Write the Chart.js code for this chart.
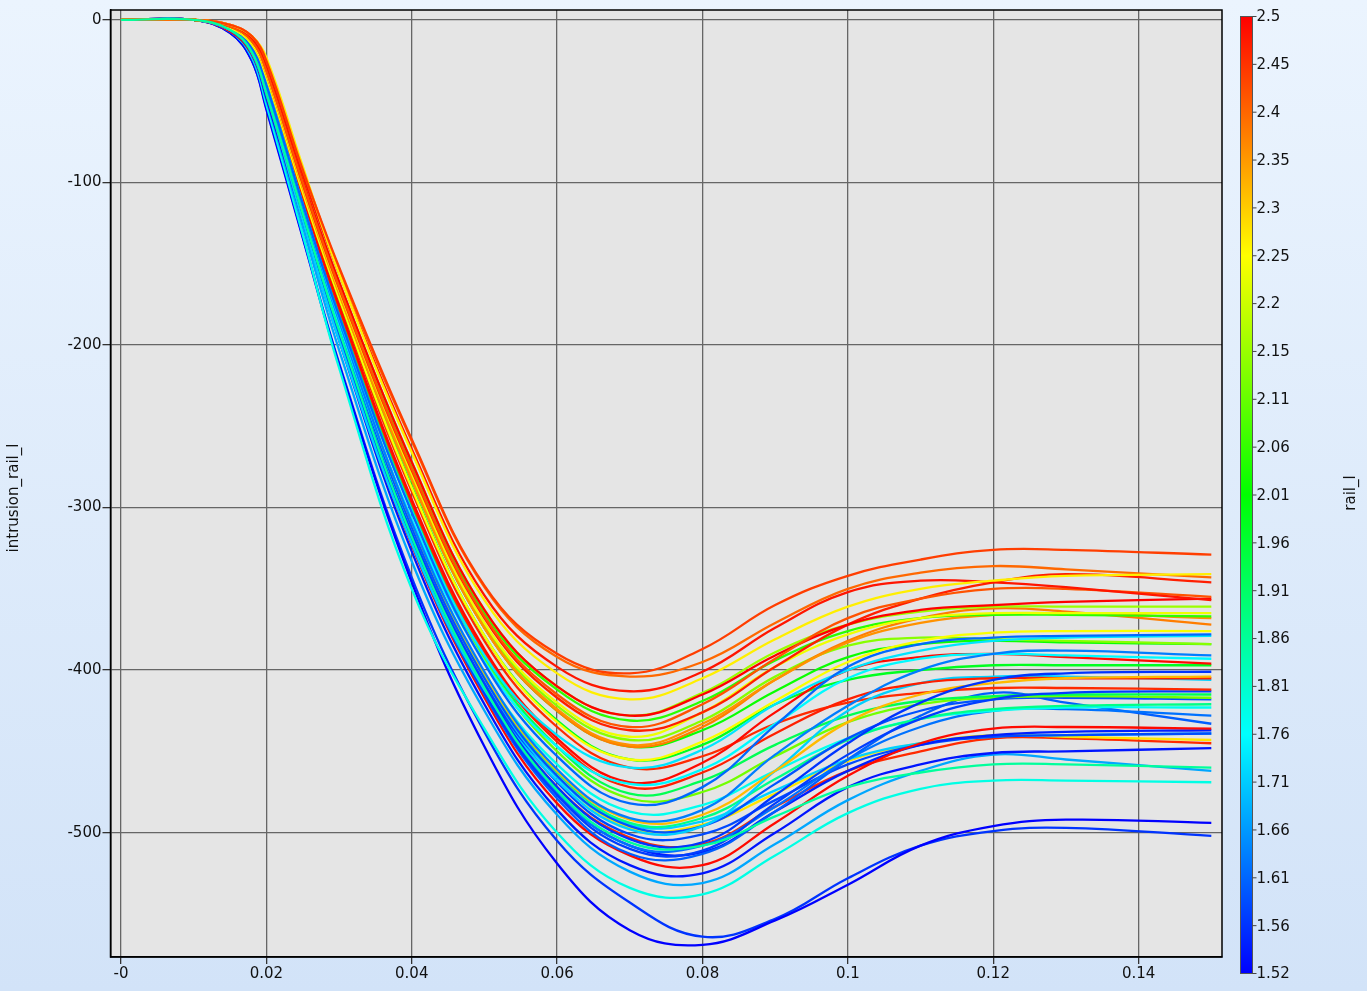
<!DOCTYPE html>
<html>
<head>
<meta charset="utf-8">
<script src="https://cdn.jsdelivr.net/npm/chart.js@4.4.0/dist/chart.umd.min.js"></script>
<style>
  html, body { margin: 0; padding: 0; }
  body {
    width: 1367px; height: 991px; overflow: hidden;
    background: linear-gradient(to bottom, #ebf4fe, #d2e3f8);
  }
  canvas { display: block; }
</style>
</head>
<body>
<canvas id="chart" width="1367" height="991"></canvas>
<script>
// --- Data
const xValues = [0, 0.01, 0.015, 0.018, 0.02, 0.025, 0.03, 0.04, 0.05, 0.06, 0.07, 0.08, 0.09, 0.1, 0.11, 0.12, 0.13, 0.15];

const railValues = [
  1.86, 2.44, 2.27, 2.40, 2.48, 2.42, 2.50, 2.47, 2.16, 2.24,
  2.05, 2.36, 2.38, 2.25, 1.62, 1.74, 2.14, 2.02, 1.64, 1.76,
  2.49, 1.98, 1.57, 2.32, 2.47, 1.72, 2.46, 1.58, 1.93, 2.12,
  1.60, 1.88, 1.78, 1.63, 1.61, 2.49, 1.55, 1.59, 1.72, 2.28,
  2.46, 1.54, 1.68, 1.79, 1.52, 1.57
];

const intrusionSeries = [
  [0,0,-6,-20,-45,-119,-191,-318,-411,-474,-506,-508,-490,-472,-463,-458,-458,-460],
  [0,0,-3,-10,-25,-92,-152,-258,-348,-390,-402,-387,-360,-342,-332,-326,-326,-329],
  [0,0,-3,-10,-23,-90,-156,-266,-357,-402,-418,-405,-381,-361,-350,-345,-342,-341],
  [0,0,-3,-10,-25,-92,-153,-259,-349,-392,-404,-395,-371,-350,-340,-336,-338,-343],
  [0,0,-3,-11,-27,-95,-156,-264,-354,-398,-413,-401,-374,-352,-345,-346,-349,-357],
  [0,0,-4,-13,-31,-100,-164,-276,-367,-415,-435,-421,-393,-368,-356,-350,-350,-355],
  [0,0,-4,-12,-30,-99,-161,-272,-363,-410,-428,-415,-391,-372,-363,-360,-358,-356],
  [0,0,-4,-13,-31,-101,-165,-277,-368,-417,-437,-426,-398,-372,-356,-346,-341,-346],
  [0,0,-4,-12,-30,-99,-161,-272,-363,-410,-428,-414,-389,-372,-364,-361,-361,-361],
  [0,0,-4,-14,-32,-102,-166,-279,-371,-420,-441,-426,-398,-378,-368,-365,-365,-365],
  [0,0,-4,-13,-30,-99,-162,-274,-365,-412,-431,-419,-394,-376,-368,-366,-366,-367],
  [0,0,-4,-14,-33,-103,-168,-282,-374,-424,-446,-433,-406,-383,-371,-366,-365,-368],
  [0,0,-4,-14,-33,-103,-168,-283,-374,-425,-447,-435,-406,-382,-368,-362,-364,-372],
  [0,0,-5,-15,-35,-106,-171,-288,-379,-432,-455,-444,-419,-395,-382,-377,-376,-376],
  [0,0,-5,-17,-40,-113,-182,-303,-396,-453,-482,-472,-434,-398,-384,-380,-379,-378],
  [0,0,-5,-17,-39,-113,-183,-302,-391,-440,-460,-449,-421,-400,-388,-382,-380,-379],
  [0,0,-4,-14,-32,-102,-167,-281,-372,-422,-443,-431,-404,-385,-380,-381,-382,-384],
  [0,0,-4,-14,-33,-103,-168,-283,-374,-425,-447,-437,-413,-392,-384,-382,-383,-384],
  [0,0,-6,-18,-42,-115,-185,-309,-401,-461,-491,-486,-452,-422,-400,-390,-388,-391],
  [0,0,-6,-18,-41,-116,-187,-307,-395,-447,-470,-461,-433,-405,-393,-390,-391,-393],
  [0,0,-5,-16,-37,-109,-176,-295,-387,-442,-469,-457,-426,-400,-392,-390,-392,-396],
  [0,0,-5,-15,-35,-105,-171,-287,-379,-431,-455,-446,-421,-406,-400,-397,-397,-397],
  [0,0,-6,-20,-44,-119,-191,-317,-410,-472,-504,-506,-477,-445,-420,-406,-402,-401],
  [0,0,-6,-18,-42,-115,-185,-309,-402,-462,-492,-489,-462,-432,-415,-408,-405,-404],
  [0,0,-5,-16,-38,-110,-177,-297,-389,-444,-472,-463,-439,-418,-408,-405,-405,-405],
  [0,0,-6,-20,-45,-123,-197,-322,-412,-468,-498,-496,-462,-425,-408,-404,-404,-406],
  [0,0,-5,-15,-35,-107,-173,-290,-382,-435,-460,-453,-433,-420,-414,-411,-411,-412],
  [0,0,-6,-20,-45,-120,-193,-320,-414,-477,-510,-511,-482,-452,-430,-418,-414,-413],
  [0,0,-5,-17,-38,-111,-179,-299,-391,-447,-476,-468,-446,-428,-419,-416,-415,-415],
  [0,0,-5,-17,-39,-112,-180,-301,-393,-450,-479,-475,-453,-432,-421,-417,-416,-417],
  [0,0,-6,-19,-43,-117,-187,-312,-405,-465,-496,-496,-470,-442,-425,-418,-417,-418],
  [0,0,-6,-19,-42,-116,-186,-310,-403,-463,-494,-491,-467,-443,-430,-424,-422,-421],
  [0,0,-6,-19,-43,-120,-191,-312,-402,-458,-487,-483,-462,-442,-430,-425,-423,-423],
  [0,0,-6,-20,-45,-120,-192,-319,-412,-475,-508,-508,-484,-455,-435,-425,-424,-428],
  [0,0,-6,-20,-46,-121,-194,-322,-415,-479,-513,-513,-487,-455,-428,-414,-420,-433],
  [0,0,-7,-21,-46,-122,-195,-323,-417,-482,-514,-520,-494,-465,-445,-436,-435,-436],
  [0,0,-6,-20,-45,-120,-192,-320,-413,-476,-508,-512,-487,-462,-446,-440,-438,-437],
  [0,0,-6,-19,-44,-118,-189,-315,-408,-469,-501,-501,-480,-458,-446,-441,-440,-439],
  [0,0,-6,-20,-44,-122,-195,-318,-408,-466,-495,-493,-474,-455,-445,-441,-440,-439],
  [0,0,-6,-19,-43,-117,-187,-312,-405,-465,-497,-495,-476,-456,-445,-440,-441,-443],
  [0,0,-6,-20,-44,-119,-190,-316,-409,-472,-503,-507,-484,-462,-450,-442,-442,-445],
  [0,0,-7,-21,-48,-123,-197,-327,-421,-486,-520,-525,-500,-472,-458,-451,-450,-448],
  [0,0,-7,-22,-49,-127,-203,-333,-425,-489,-524,-531,-507,-480,-462,-452,-455,-462],
  [0,0,-7,-23,-52,-132,-214,-350,-436,-500,-534,-538,-514,-488,-473,-468,-468,-469],
  [0,0,-8,-25,-55,-134,-212,-346,-447,-519,-560,-569,-554,-532,-508,-496,-492,-494],
  [0,0,-8,-25,-54,-133,-211,-343,-438,-505,-543,-564,-553,-528,-508,-499,-497,-502]
];

const xTicks = [0, 0.02, 0.04, 0.06, 0.08, 0.1, 0.12, 0.14];
const xTickLabels = ['-0', '0.02', '0.04', '0.06', '0.08', '0.1', '0.12', '0.14'];
const yTicks = [0, -100, -200, -300, -400, -500];
const cbarLabels = ['2.5', '2.45', '2.4', '2.35', '2.3', '2.25', '2.2', '2.15', '2.11', '2.06', '2.01',
  '1.96', '1.91', '1.86', '1.81', '1.76', '1.71', '1.66', '1.61', '1.56', '1.52'];
const cbarMin = 1.52;
const cbarMax = 2.5;

const FONT = '"DejaVu Sans", sans-serif';

function railColor(v) {
  const t = (v - cbarMin) / (cbarMax - cbarMin);
  return `hsl(${(240 * (1 - t)).toFixed(1)}, 100%, 50%)`;
}

// ------------------------------------------
// PLOT BACKGROUND, FRAME, AXIS TITLE
// ------------------------------------------
const plotFrame = {
  id: 'plotFrame',
  beforeDraw(chart) {
    const { ctx, chartArea: a } = chart;
    ctx.save();
    ctx.fillStyle = '#e5e5e5';
    ctx.fillRect(a.left, a.top, a.width, a.height);
    ctx.restore();
  },
  afterDraw(chart) {
    const { ctx, chartArea: a } = chart;
    ctx.save();
    ctx.strokeStyle = '#000';
    ctx.lineWidth = 1.5;
    ctx.strokeRect(a.left, a.top, a.width, a.height);

    ctx.fillStyle = '#111';
    ctx.font = `15px ${FONT}`;
    ctx.textAlign = 'center';
    ctx.textBaseline = 'middle';
    ctx.translate(14, 498);
    ctx.rotate(-Math.PI / 2);
    ctx.fillText('intrusion_rail_l', 0, 0);
    ctx.restore();
  }
};

// ------------------------------------------
// COLOR BAR
// ------------------------------------------
const colorBar = {
  id: 'colorBar',
  afterDraw(chart) {
    const ctx = chart.ctx;
    const left = 1240.5, width = 12, top = 16.5, bottom = 973.5;
    const h = bottom - top;
    ctx.save();
    const grad = ctx.createLinearGradient(0, top, 0, bottom);
    [0, 0.25, 0.5, 0.75, 1].forEach(s => grad.addColorStop(s, `hsl(${240 * s}, 100%, 50%)`));
    ctx.fillStyle = grad;
    ctx.fillRect(left, top, width, h);
    ctx.strokeStyle = '#555';
    ctx.lineWidth = 1;
    ctx.strokeRect(left, top, width, h);

    ctx.fillStyle = '#111';
    ctx.font = `15px ${FONT}`;
    ctx.textAlign = 'left';
    ctx.textBaseline = 'middle';
    const n = cbarLabels.length - 1;
    cbarLabels.forEach((lab, i) => {
      const y = top + (h * i) / n;
      ctx.beginPath();
      ctx.moveTo(left + width, y);
      ctx.lineTo(left + width + 4, y);
      ctx.strokeStyle = '#444';
      ctx.stroke();
      ctx.fillText(lab, left + width + 4, y + 1);
    });

    ctx.translate(1351, 493);
    ctx.rotate(-Math.PI / 2);
    ctx.textAlign = 'center';
    ctx.fillText('rail_l', 0, 0);
    ctx.restore();
  }
};

// ------------------------------------------
// CHART
// ------------------------------------------
const datasets = intrusionSeries.map((ys, i) => ({
  data: ys.map((y, j) => ({ x: xValues[j], y })),
  borderColor: railColor(railValues[i]),
  borderWidth: 2.3,
  pointRadius: 0,
  fill: false,
  tension: 0.4
}));

new Chart(document.getElementById('chart'), {
  type: 'line',
  data: { datasets },
  options: {
    responsive: false,
    animation: false,
    events: [],
    layout: { padding: { top: 7, right: 145, left: 0, bottom: 0 } },
    plugins: { legend: { display: false }, tooltip: { enabled: false } },
    scales: {
      x: {
        type: 'linear',
        min: -0.00144,
        max: 0.15147,
        afterBuildTicks: s => { s.ticks = xTicks.map(v => ({ value: v })); },
        afterFit: s => { s.height = 34; },
        grid: { color: '#666', lineWidth: 1.3, tickLength: 7, tickColor: '#333' },
        border: { display: true, color: '#000', width: 1.5 },
        ticks: {
          color: '#111',
          font: { family: FONT, size: 15 },
          padding: 1,
          maxRotation: 0,
          callback: (v, i) => xTickLabels[i]
        }
      },
      y: {
        min: -576.5,
        max: 6.1,
        afterBuildTicks: s => { s.ticks = yTicks.map(v => ({ value: v })); },
        afterFit: s => { s.width = 110.5; },
        grid: { color: '#666', lineWidth: 1.3, tickLength: 8, tickColor: '#333' },
        border: { display: true, color: '#000', width: 1.5 },
        ticks: {
          color: '#111',
          font: { family: FONT, size: 15 },
          padding: 1,
          callback: v => String(v)
        }
      }
    }
  },
  plugins: [plotFrame, colorBar]
});
</script>
</body>
</html>
